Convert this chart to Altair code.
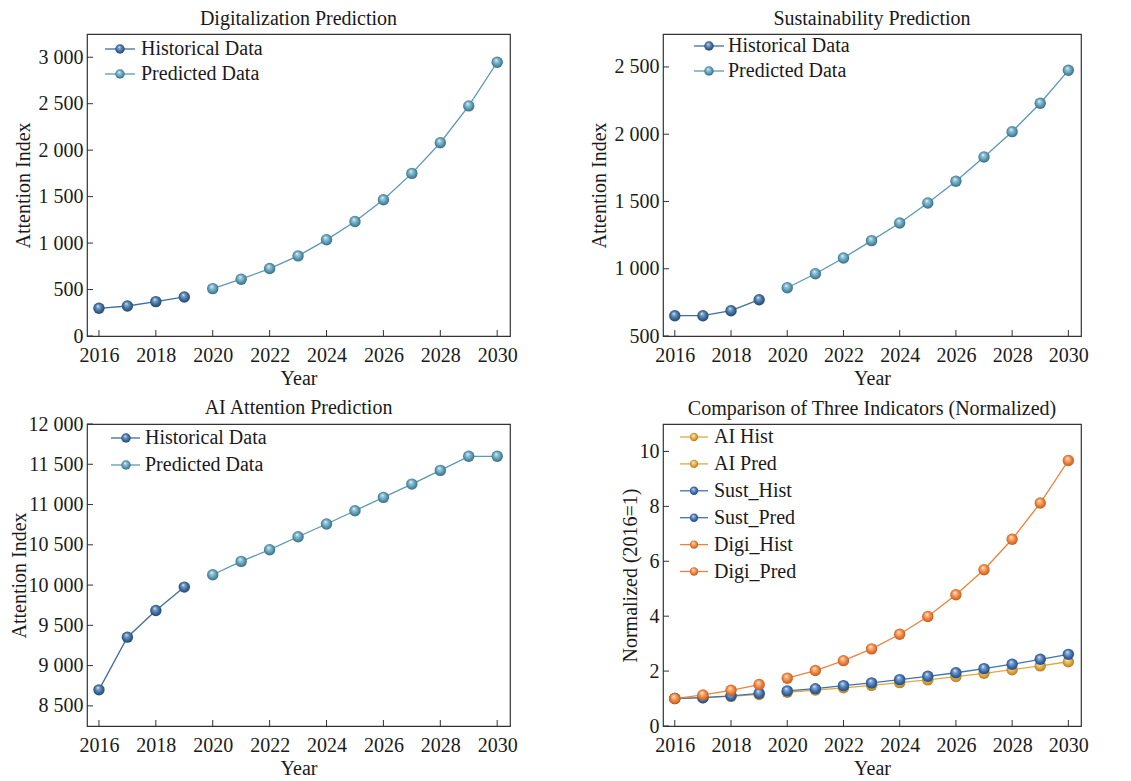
import altair as alt
import pandas as pd

# ---------------- data ----------------
hist_years = [2016, 2017, 2018, 2019]
pred_years = [2020, 2021, 2022, 2023, 2024, 2025, 2026, 2027, 2028, 2029, 2030]

digi_hist = [298, 323, 370, 420]
digi_pred = [510, 611, 726, 862, 1035, 1232, 1466, 1750, 2080, 2476, 2946]

sust_hist = [651, 651, 688, 770]
sust_pred = [859, 963, 1080, 1209, 1340, 1489, 1650, 1831, 2019, 2230, 2475]

ai_hist = [8699, 9353, 9685, 9975]
ai_pred = [10128, 10294, 10439, 10600, 10758, 10923, 11089, 11254, 11424, 11599, 11599]

n_ai_hist = [1.00, 1.03, 1.08, 1.15]
n_ai_pred = [1.23, 1.31, 1.39, 1.48, 1.58, 1.68, 1.80, 1.92, 2.05, 2.19, 2.34]
n_sust_hist = [1.00, 1.03, 1.10, 1.19]
n_sust_pred = [1.28, 1.36, 1.47, 1.57, 1.69, 1.81, 1.94, 2.09, 2.25, 2.43, 2.61]
n_digi_hist = [1.00, 1.13, 1.30, 1.51]
n_digi_pred = [1.74, 2.02, 2.38, 2.81, 3.34, 3.99, 4.78, 5.69, 6.80, 8.12, 9.67]

x_ticks = [2016, 2018, 2020, 2022, 2024, 2026, 2028, 2030]
digi_ticks = [0, 500, 1000, 1500, 2000, 2500, 3000]
sust_ticks = [500, 1000, 1500, 2000, 2500]
ai_ticks = [8500, 9000, 9500, 10000, 10500, 11000, 11500, 12000]
norm_ticks = [0, 2, 4, 6, 8, 10]

# ---------------- style ----------------
FONT = "Liberation Serif"
FS = 20
XDOM = [2015.58, 2030.45]
H = 302
TXT = "#1a1a1a"


def sphere(base, light, dark):
    return {
        "gradient": "radial",
        "x1": 0.4, "y1": 0.3, "r1": 0.0,
        "x2": 0.5, "y2": 0.5, "r2": 0.56,
        "stops": [
            {"offset": 0.0, "color": "#ffffff"},
            {"offset": 0.2, "color": light},
            {"offset": 0.6, "color": base},
            {"offset": 1.0, "color": dark},
        ],
    }


HIST = dict(line="#3f6e9c", grad=sphere("#3d6c9c", "#86a8ca", "#1f3f62"))
PRED = dict(line="#5a99b4", grad=sphere("#5b9bb6", "#a4cbda", "#2f6178"))
YEL = dict(line="#e0a73e", grad=sphere("#dfa43a", "#f2d494", "#a6741a"))
BLU = dict(line="#3f72b3", grad=sphere("#3d6fb0", "#8eaed9", "#1e4276"))
ORA = dict(line="#f0803a", grad=sphere("#ef7e36", "#f9bd90", "#b8541a"))


def make_panel(title, series, ydom, yticks, ytitle, width, title_x, leg, toff):
    xs = alt.Scale(domain=XDOM, nice=False, zero=False)
    ys = alt.Scale(domain=ydom, nice=False, zero=False)
    x_axis = alt.Axis(values=x_ticks, format="d", title="Year", labelPadding=9,
                      titlePadding=3, labelFlush=False)
    y_axis = alt.Axis(values=yticks, title=ytitle, labelPadding=4,
                      labelExpr="replace(format(datum.value, ','), ',', ' ')",
                      titleX=title_x, titleY=H / 2, titleBaseline="middle",
                      titleAngle=270, titleAlign="center")
    X = alt.X("year:Q", scale=xs, axis=x_axis)
    Y = alt.Y("value:Q", scale=ys, axis=y_axis)
    layers = []
    for label, years, vals, sty in series:
        df = pd.DataFrame({"year": years, "value": vals})
        base = alt.Chart(df)
        line = base.mark_line(color=sty["line"], strokeWidth=1.3).encode(x=X, y=Y)
        pts = base.mark_circle(size=130, opacity=1, fill=sty["grad"], strokeWidth=0).encode(x=X, y=Y)
        layers += [line, pts]

    # inward ticks
    xt = alt.Chart(pd.DataFrame({"year": x_ticks})).mark_rule(color="#333", strokeWidth=1).encode(
        x=X, y=alt.value(H), y2=alt.value(H - 6))
    yt = alt.Chart(pd.DataFrame({"value": yticks})).mark_rule(color="#333", strokeWidth=1).encode(
        y=Y, x=alt.value(0), x2=alt.value(6))
    layers += [xt, yt]

    # legend
    lx0, lcx, lx1, tx, ly0, dy, msize = leg
    for i, (label, _, _, sty) in enumerate(series):
        ly = ly0 + i * dy
        ldf = alt.Chart(pd.DataFrame({"label": [label]}))
        layers.append(ldf.mark_rule(color=sty["line"], strokeWidth=1.3).encode(
            x=alt.value(lx0), x2=alt.value(lx1), y=alt.value(ly)))
        layers.append(ldf.mark_circle(size=msize, opacity=1, fill=sty["grad"], strokeWidth=0).encode(
            x=alt.value(lcx), y=alt.value(ly)))
        layers.append(ldf.mark_text(align="left", baseline="middle", font=FONT, fontSize=FS,
                                    color=TXT).encode(
            x=alt.value(tx), y=alt.value(ly), text="label:N"))

    return alt.layer(*layers).properties(
        width=width, height=H,
        title=alt.TitleParams(title, font=FONT, fontSize=20, fontWeight="normal", color=TXT,
                              anchor="middle", frame="group", offset=toff),
    )


p1 = make_panel(
    "Digitalization Prediction",
    [("Historical Data", hist_years, digi_hist, HIST), ("Predicted Data", pred_years, digi_pred, PRED)],
    [0, 3250], digi_ticks, "Attention Index", 423, -64,
    (18, 33, 48, 54, 15, 25, 90), 5)
p2 = make_panel(
    "Sustainability Prediction",
    [("Historical Data", hist_years, sust_hist, HIST), ("Predicted Data", pred_years, sust_pred, PRED)],
    [500, 2745], sust_ticks, "Attention Index", 418, -64,
    (31, 46, 61, 65, 12, 25, 90), 5)
p3 = make_panel(
    "AI Attention Prediction",
    [("Historical Data", hist_years, ai_hist, HIST), ("Predicted Data", pred_years, ai_pred, PRED)],
    [8250, 12000], ai_ticks, "Attention Index", 423, -68,
    (24, 39, 53, 58, 14, 27, 90), -4)
p4 = make_panel(
    "Comparison of Three Indicators (Normalized)",
    [("AI Hist", hist_years, n_ai_hist, YEL), ("AI Pred", pred_years, n_ai_pred, YEL),
     ("Sust_Hist", hist_years, n_sust_hist, BLU), ("Sust_Pred", pred_years, n_sust_pred, BLU),
     ("Digi_Hist", hist_years, n_digi_hist, ORA), ("Digi_Pred", pred_years, n_digi_pred, ORA)],
    [0, 11], norm_ticks, "Normalized (2016=1)", 418, -33,
    (17, 31, 45, 51, 13, 26.9, 70), 5)

chart = alt.concat(p1, p2, p3, p4, columns=2, spacing={"row": 8, "column": 70}).properties(
    padding={"left": 0, "top": 0, "right": 0, "bottom": 0},
    background="white",
).configure_view(
    stroke="#333333", strokeWidth=1.2,
).configure_axis(
    labelFont=FONT, labelFontSize=FS, labelColor=TXT,
    titleFont=FONT, titleFontSize=FS, titleFontWeight="normal", titleColor=TXT,
    domain=False, ticks=False, tickSize=0, grid=False,
)

chart.save("out.html", embed_options={"renderer": "svg", "actions": False})
